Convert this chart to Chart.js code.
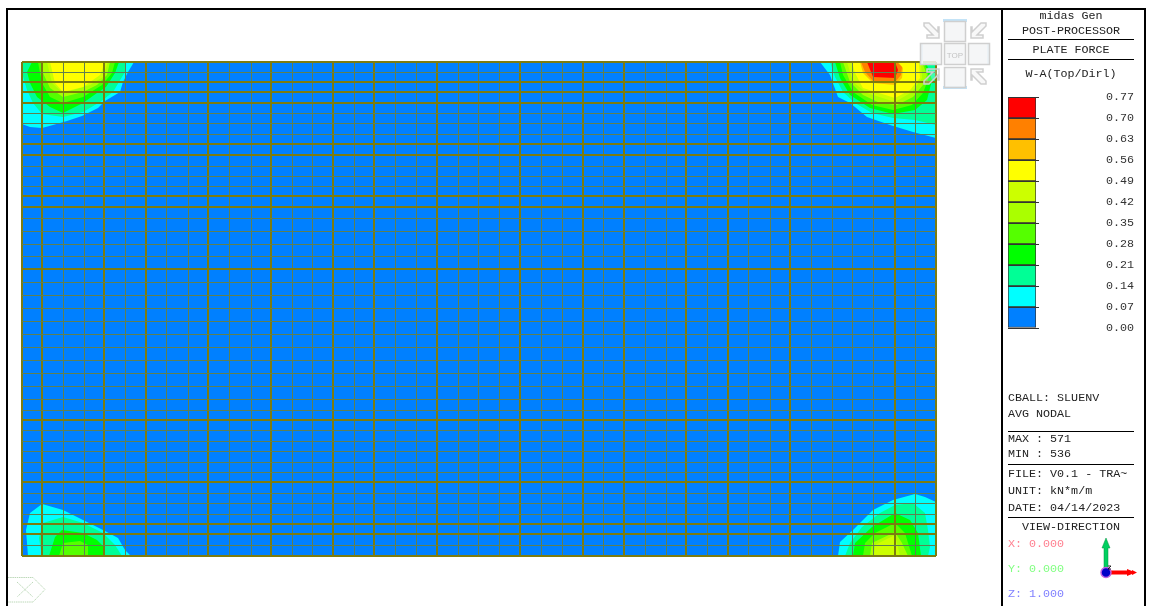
<!DOCTYPE html>
<html lang="en">
  <head>
    <meta charset="UTF-8" />
    <title>midas Gen plate force</title>
    <script src="https://cdnjs.cloudflare.com/ajax/libs/Chart.js/4.4.1/chart.umd.min.js"></script>
    <style>
      html, body { margin: 0; padding: 0; background: #fff; overflow: hidden; }
      #page { position: relative; width: 1149px; height: 606px; }
      #plate { position: absolute; left: 0; top: 0; }
      #scale { position: absolute; left: 1004px; top: 85px; }
      #frame { position: absolute; left: 6px; top: 8px; width: 1136px; height: 598px; border: 2px solid #000; border-bottom: none; }
      #divider { position: absolute; left: 1001px; top: 8px; width: 2px; height: 598px; background: #000; }
      svg { position: absolute; left: 0; top: 0; }
      .t { position: absolute; font: 11.7px/14px "Liberation Mono", monospace; color: #222; white-space: pre; }
      .c { left: 1008px; width: 126px; text-align: center; }
      .l { left: 1008px; }
      .r { position: absolute; left: 1008px; width: 126px; height: 1px; background: #000; }
    </style>
  </head>
  <body>
    <div id="page">
      <canvas id="plate" width="1149" height="606"></canvas>
      <div id="frame"></div>
      <div id="divider"></div>

      <div class="t c" style="top:9px">midas Gen</div>
      <div class="t c" style="top:24px">POST-PROCESSOR</div>
      <div class="r" style="top:39px"></div>
      <div class="t c" style="top:43px">PLATE FORCE</div>
      <div class="r" style="top:59px"></div>
      <div class="t c" style="top:67px">W-A(Top/Dirl)</div>

      <div class="t l" style="top:391px">CBALL: SLUENV</div>
      <div class="t l" style="top:407px">AVG NODAL</div>
      <div class="r" style="top:431px"></div>
      <div class="t l" style="top:432px">MAX : 571</div>
      <div class="t l" style="top:447px">MIN : 536</div>
      <div class="r" style="top:464px"></div>
      <div class="t l" style="top:467px">FILE: V0.1 - TRA~</div>
      <div class="t l" style="top:484px">UNIT: kN*m/m</div>
      <div class="t l" style="top:501px">DATE: 04/14/2023</div>
      <div class="r" style="top:517px"></div>
      <div class="t c" style="top:520px">VIEW-DIRECTION</div>
      <div class="t l" style="top:537px;color:#ff8090">X: 0.000</div>
      <div class="t l" style="top:562px;color:#80ff80">Y: 0.000</div>
      <div class="t l" style="top:587px;color:#8080ff">Z: 1.000</div>

      <canvas id="scale" width="135" height="255"></canvas>

      <!-- view cube, origin icon and axis triad -->
      <svg width="1149" height="606">
        <g fill="#c3e3f7">
          <rect x="943" y="19" width="24" height="3"/>
          <rect x="920" y="43" width="3" height="22"/>
          <rect x="987" y="43" width="3" height="22"/>
          <rect x="943" y="86" width="24" height="3"/>
        </g>
        <g fill="#f3f4f6" fill-opacity="0.85" stroke="#cfcfcf" stroke-width="1.5">
          <rect x="944.5" y="21.5" width="21" height="20"/>
          <rect x="920.5" y="43.5" width="21" height="21"/>
          <rect x="944.5" y="43.5" width="21" height="21"/>
          <rect x="968.5" y="43.5" width="21" height="21"/>
          <rect x="944.5" y="67.5" width="21" height="20"/>
        </g>
        <text x="955" y="58" text-anchor="middle" font-family="Liberation Sans" font-size="8" fill="#c4c4c4">TOP</text>
        <g fill="#f6f6f6" fill-opacity="0.8" stroke="#cfcfcf" stroke-width="1.5">
          <path d="M924 23h5l9 9v-5l1 0v11h-12v-3h6l-9-9z"/>
          <path d="M986 23h-5l-9 9v-5l-1 0v11h12v-3h-6l9-9z"/>
          <path d="M924 84h5l9-9v5h1v-11h-12v3h6l-9 9z" fill-opacity="0.25"/>
          <path d="M986 84h-5l-9-9v5h-1v-11h12v3h-6l9 9z"/>
        </g>
        <g fill="none" stroke="#bcd8b8" stroke-width="1" stroke-dasharray="1.5 0.7">
          <path d="M8 577.5h25l12 12l-12 12.5h-25"/>
          <path d="M17 582l16 15M33 582l-16 15"/>
        </g>
        <path d="M1104 570v-22h-2l4-10l4 10h-2v22z" fill="#00d060" stroke="#009040" stroke-width="0.5"/>
        <path d="M1110 570.5h17v-1.5l5 2v-1l5 2.5l-5 2.5v-1l-5 2v-1.5h-17z" fill="#ff0000"/>
        <circle cx="1106" cy="572.5" r="5" fill="#0000c8" stroke="#c060e0" stroke-width="1.5"/>
        <path d="M1108 566h3l-3 3h3" fill="none" stroke="#000" stroke-width="0.8"/>
      </svg>
    </div>

    <script>
      // mesh lines of the plate
      const gridX = [0, 20, 41, 62, 82, 103, 124, 144, 166, 186, 207, 229, 249, 270, 290, 311, 332, 352, 373, 394, 415, 436, 456, 477, 498, 519, 540, 561, 581, 602, 623, 644, 664, 685, 706, 726, 748, 768, 789, 810, 830, 851, 873, 893, 914];
      const gridY = [0, 10, 20, 30, 41, 51, 61, 72, 82, 93, 104, 114, 124, 134, 145, 156, 169, 182, 194, 207, 220, 233, 246, 259, 272, 285, 298, 311, 324, 337, 348, 358, 368, 379, 389, 400, 410, 420, 431, 441, 452, 462, 472, 483, 494];
      const thickX = [0, 20, 82, 124, 186, 249, 311, 352, 415, 498, 561, 602, 664, 706, 768, 873, 914];
      const thickY = [0, 20, 30, 41, 82, 93, 134, 145, 207, 358, 420, 462, 472, 494];

      // legend
      const legendTicks = [0, 0.07, 0.14, 0.21, 0.28, 0.35, 0.42, 0.49, 0.56, 0.63, 0.70, 0.77];
      const bandColors = ['#0080ff', '#00ffff', '#00ff96', '#00ff00', '#55ff00', '#aaff00', '#ccff00', '#ffff00', '#ffc000', '#ff8000', '#ff0000'];

      // contour outlines, [x, y] in plate units, one list per level and corner
      const plateEdge = [[0, 0], [914, 0], [914, 494], [0, 494]];

      const tlCyan = [[0, 0], [112, 0], [106, 10], [101, 20], [98, 30], [83, 39], [76, 46], [60, 54], [45, 59], [31, 63], [20, 66], [8, 65], [0, 62]];
      const tlMint = [[0, 0], [103, 0], [103, 10], [97, 20], [91, 30], [78, 40], [61, 50], [41, 55], [20, 52], [11, 41], [5, 28], [0, 11]];
      const tlGreen = [[10, 0], [97, 0], [93, 11], [84, 25], [75, 31], [61, 41], [41, 51], [28, 45], [15, 35], [8, 21], [5, 10]];
      const tlLime = [[16, 0], [93, 0], [90, 11], [80, 23], [61, 35], [41, 41], [28, 35], [20, 21]];
      const tlLeaf = [[21, 0], [88, 0], [85, 13], [75, 23], [61, 30], [41, 35], [28, 26], [21, 11]];
      const tlSpring = [[25, 0], [86, 0], [81, 15], [68, 23], [41, 31], [30, 21]];
      const tlYellow = [[28, 0], [83, 0], [78, 13], [61, 25], [41, 30], [33, 21]];

      const trCyan = [[798, 0], [808, 13], [816, 35], [828, 41], [845, 55], [868, 63], [891, 70], [914, 76], [914, 0]];
      const trMint = [[808, 0], [813, 15], [821, 30], [833, 41], [850, 51], [871, 56], [893, 58], [914, 63], [914, 0]];
      const trGreen = [[813, 0], [818, 16], [828, 33], [848, 46], [871, 52], [893, 48], [905, 38], [910, 18], [905, 3], [903, 0]];
      const trLime = [[818, 0], [821, 13], [831, 30], [850, 43], [871, 48], [890, 43], [901, 31], [907, 15], [902, 0]];
      const trLeaf = [[821, 0], [828, 20], [841, 33], [858, 41], [875, 43], [891, 35], [901, 23], [905, 13], [900, 0]];
      const trSpring = [[825, 0], [831, 20], [845, 31], [873, 40], [890, 30], [900, 16], [899, 0]];
      const trYellow = [[830, 0], [833, 11], [841, 26], [873, 36], [888, 28], [898, 16], [897, 0]];
      const trAmber = [[838, 0], [841, 11], [851, 21], [873, 23], [880, 16], [881, 6], [876, 0]];
      const trOrange = [[839, 0], [843, 10], [852, 20], [873, 20], [879, 13], [880, 5], [875, 0]];
      const trRed = [[845, 0], [851, 15], [873, 16], [876, 8], [873, 0]];

      const blCyan = [[6, 494], [4, 468], [8, 451], [20, 442], [41, 448], [61, 458], [83, 469], [96, 476], [103, 488], [109, 494]];
      const blMint = [[20, 494], [17, 476], [21, 461], [41, 455], [61, 461], [81, 471], [93, 483], [100, 494]];
      const blGreen = [[27, 494], [33, 475], [40, 468], [61, 471], [75, 478], [82, 485], [83, 494]];
      const blLime = [[37, 494], [41, 481], [58, 479], [66, 483], [66, 494]];

      const brCyan = [[816, 494], [818, 480], [831, 468], [851, 448], [871, 438], [893, 432], [903, 435], [914, 440], [914, 494]];
      const brMint = [[823, 494], [828, 481], [840, 465], [858, 451], [873, 443], [891, 441], [903, 451], [906, 468], [908, 485], [906, 494]];
      const brGreen = [[831, 494], [833, 481], [850, 465], [873, 451], [888, 458], [896, 471], [899, 494]];
      const brLime = [[841, 494], [843, 481], [853, 471], [873, 461], [883, 471], [890, 494]];
      const brLeaf = [[848, 494], [850, 481], [873, 470], [880, 481], [886, 494]];
      const brSpring = [[852, 494], [853, 483], [873, 473], [878, 494]];

      // painted from the outside in, the index is the legend band
      const contours = [
        [plateEdge, 0],
        [tlCyan, 1], [trCyan, 1], [blCyan, 1], [brCyan, 1],
        [tlMint, 2], [trMint, 2], [blMint, 2], [brMint, 2],
        [tlGreen, 3], [trGreen, 3], [blGreen, 3], [brGreen, 3],
        [tlLime, 4], [trLime, 4], [blLime, 4], [brLime, 4],
        [tlLeaf, 5], [trLeaf, 5], [brLeaf, 5],
        [tlSpring, 6], [trSpring, 6], [brSpring, 6],
        [tlYellow, 7], [trYellow, 7],
        [trAmber, 8],
        [trOrange, 9],
        [trRed, 10]
      ];

      const meshColor = '#7c7c10';
      const thinMeshColor = '#5f8050';

      const plateChart = new Chart(document.getElementById('plate'), {
        type: 'scatter',
        data: {
          datasets: contours.map((c, i) => ({
            data: c[0].map(p => ({ x: p[0], y: p[1] })),
            showLine: true,
            fill: 'shape',
            backgroundColor: bandColors[c[1]],
            borderWidth: 0,
            pointRadius: 0,
            order: contours.length - i
          }))
        },
        options: {
          responsive: false,
          animation: false,
          layout: { padding: { left: 22, top: 62, right: 213, bottom: 50 } },
          plugins: { legend: { display: false }, tooltip: { enabled: false } },
          scales: {
            x: {
              type: 'linear', min: 0, max: 914,
              afterBuildTicks: s => { s.ticks = gridX.map(v => ({ value: v })); },
              ticks: { display: false },
              border: { display: false },
              grid: {
                z: 1, drawTicks: false,
                lineWidth: c => (thickX.includes(c.tick.value) ? 2 : 1),
                color: c => (thickX.includes(c.tick.value) ? meshColor : thinMeshColor)
              }
            },
            y: {
              type: 'linear', min: 0, max: 494, reverse: true,
              afterBuildTicks: s => { s.ticks = gridY.map(v => ({ value: v })); },
              ticks: { display: false },
              border: { display: false },
              grid: {
                z: 1, drawTicks: false,
                lineWidth: c => (thickY.includes(c.tick.value) ? 2 : 1),
                color: c => (thickY.includes(c.tick.value) ? meshColor : thinMeshColor)
              }
            }
          }
        }
      });

      const scaleChart = new Chart(document.getElementById('scale'), {
        type: 'bar',
        data: {
          labels: ['W-A'],
          datasets: bandColors.map((color, i) => ({
            data: [[legendTicks[i], legendTicks[i + 1]]],
            backgroundColor: color,
            borderColor: '#333',
            borderWidth: 1,
            borderSkipped: false,
            barPercentage: 1,
            categoryPercentage: 1
          }))
        },
        options: {
          responsive: false,
          animation: false,
          layout: { autoPadding: false, padding: { left: 4, top: 12, right: 5, bottom: 12 } },
          plugins: { legend: { display: false }, tooltip: { enabled: false } },
          scales: {
            x: { stacked: true, display: false },
            y: {
              position: 'right', min: 0, max: 0.77,
              afterBuildTicks: s => { s.ticks = legendTicks.map(v => ({ value: v })); },
              // the long label gap would otherwise eat the plot height
              afterFit: s => { s.width = 98; s.paddingTop = 0; s.paddingBottom = 0; },
              border: { display: false },
              grid: { z: 1, color: '#333', tickLength: 3 },
              ticks: {
                padding: 67, color: '#333', autoSkip: false,
                font: { family: 'Liberation Mono', size: 11.7 },
                callback: v => v.toFixed(2)
              }
            }
          }
        }
      });
    </script>
  </body>
</html>
